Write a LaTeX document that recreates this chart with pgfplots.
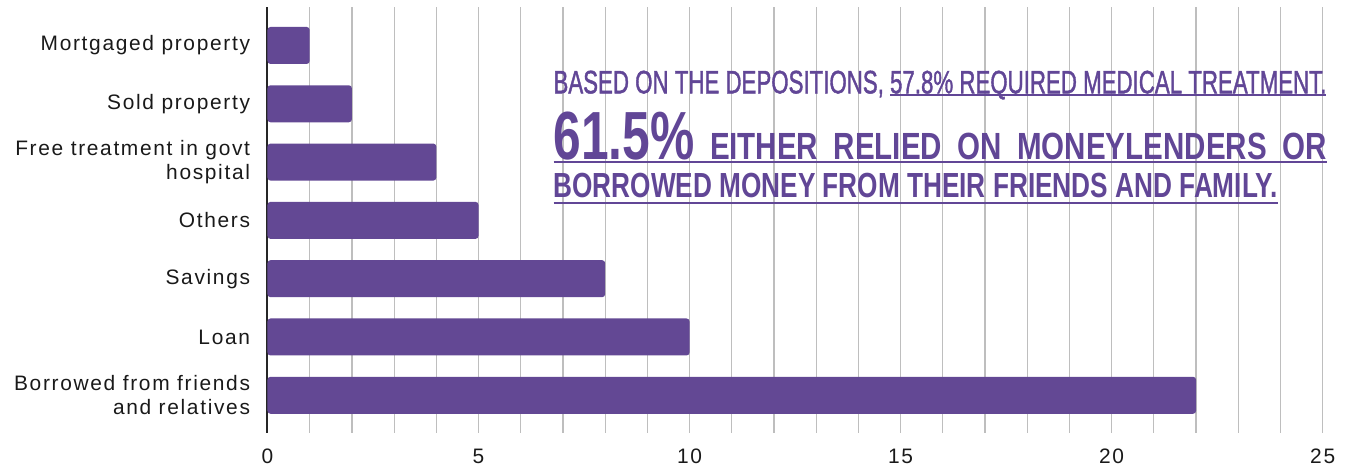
\documentclass[border=0pt]{standalone}
\usepackage{graphicx}
\usepackage{fontspec}
\setmainfont{Liberation Sans}[LetterSpace=8]
\newfontfamily\annfont{Liberation Sans}
\newfontfamily\annfontm{Liberation Sans}[FakeBold=1.6]
\usepackage{pgfplots}
\pgfplotsset{compat=1.18}

\definecolor{barc}{RGB}{99,72,148}
\definecolor{txtc}{RGB}{97,70,150}
\definecolor{gridc}{RGB}{190,190,190}

% underline: #1 gap below baseline, #2 thickness
\newcommand{\ulbox}[3]{\setbox0\hbox{#3}\rlap{\vrule height -#1 depth \dimexpr#1+#2\relax width \wd0}\box0}

\begin{document}
\begin{tikzpicture}
\begin{axis}[
  at={(0,0)}, anchor=south west,
  scale only axis, width=1055.2bp, height=426bp,
  xbar, bar width=37bp,
  xmin=0, xmax=25, ymin=-0.647, ymax=6.66,
  xtick={0,5,...,25}, minor x tick num=4,
  ytick={0,...,6},
  yticklabels={{Borrowed from friends\\and relatives},Loan,Savings,Others,{Free treatment in govt\\hospital},Sold property,Mortgaged property},
  xmajorgrids, xminorgrids,
  major grid style={draw=gridc, line width=1.2bp},
  minor grid style={draw=gridc, line width=1.2bp},
  axis lines*=left,
  x axis line style={draw=none},
  y axis line style={draw=black!85, line width=2bp, -},
  tick style={draw=none},
  /pgf/number format/assume math mode=true,
  ticklabel style={font=\fontsize{21}{24}\selectfont, text=black!90, inner sep=0pt},
  yticklabel style={align=right},
  yticklabel shift=13bp,
  xticklabel shift=16bp,
]
\addplot[fill=barc, draw=none, rounded corners=3bp] coordinates {
(22,0) (10,1) (8,2) (5,3) (4,4) (2,5) (1,6)};
\end{axis}

\node[anchor=base west, inner sep=0pt, text=txtc] at (285.8bp,339.7bp)
  {\resizebox{773bp}{\height}{\annfontm\fontsize{32.5}{33}\selectfont BASED ON THE DEPOSITIONS, \ulbox{1bp}{1.5bp}{57.8\% REQUIRED MEDICAL TREATMENT.}}};
\node[anchor=base west, inner sep=0pt, text=txtc] at (285.8bp,273.7bp)
  {\annfont\bfseries\ulbox{1.5bp}{2bp}{\hbox to 773bp{%
    \scalebox{0.73}[1]{\fontsize{68.4}{69}\selectfont 61.5\%}\hfill
    \scalebox{0.78}[1]{\fontsize{38}{38}\selectfont EITHER}\hfill
    \scalebox{0.78}[1]{\fontsize{38}{38}\selectfont RELIED}\hfill
    \scalebox{0.78}[1]{\fontsize{38}{38}\selectfont ON}\hfill
    \scalebox{0.78}[1]{\fontsize{38}{38}\selectfont MONEYLENDERS}\hfill
    \scalebox{0.78}[1]{\fontsize{38}{38}\selectfont OR}}}};
\node[anchor=base west, inner sep=0pt, text=txtc] at (285.8bp,235bp)
  {\annfont\bfseries\ulbox{4bp}{2bp}{\resizebox{724bp}{\height}{\fontsize{35}{35}\selectfont BORROWED MONEY FROM THEIR FRIENDS AND FAMILY.}}};

\pgfresetboundingbox
\useasboundingbox (-267.5bp,-36bp) rectangle (1081.5bp,433bp);
\end{tikzpicture}
\end{document}
